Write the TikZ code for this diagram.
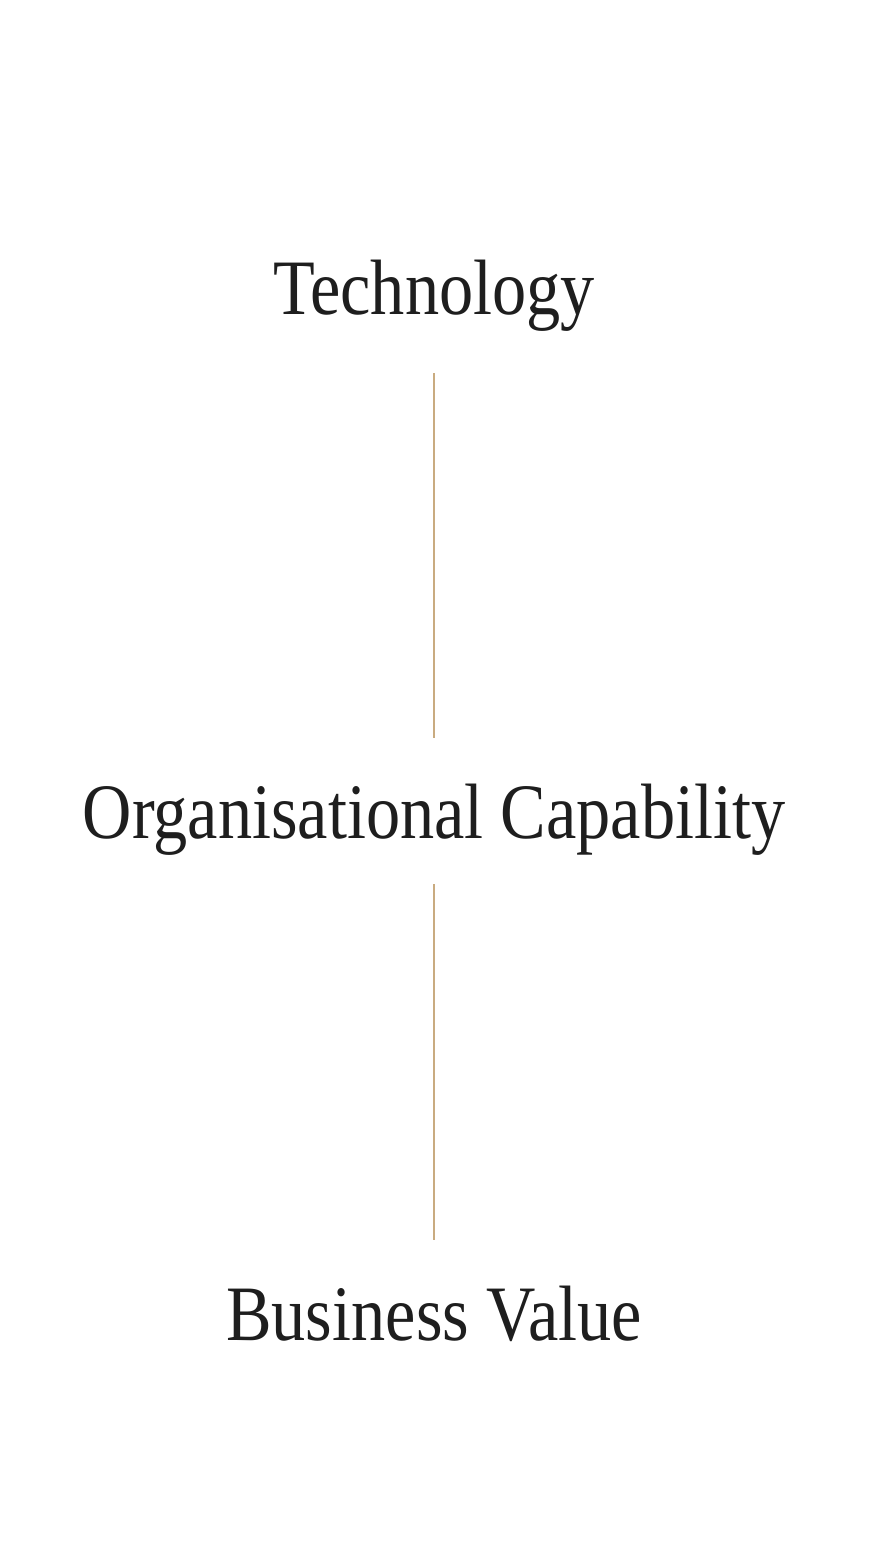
\documentclass[tikz,border=0pt]{standalone}
\usepackage{fontspec}
\setmainfont[FakeStretch=0.87]{Liberation Serif}
\definecolor{ink}{HTML}{1E1E1E}
\definecolor{gold}{HTML}{C9AB80}
\begin{document}
\begin{tikzpicture}[x=1pt,y=1pt,
  label/.style={anchor=base,inner sep=0pt,text height=52pt,text depth=16pt,text=ink,font=\fontsize{78.5}{80}\selectfont},
  link/.style={draw=gold,line width=1.5pt}]
\fill[white] (0,0) rectangle (878,-1560);
\useasboundingbox (0,0) rectangle (878,-1560);
\node[label] (tech) at (434,-314) {Technology};
\node[label] (org) at (434,-838) {Organisational Capability};
\node[label] (biz) at (434,-1340) {Business Value};
\draw[link,shorten <=43pt,shorten >=48pt] (tech.south) -- (org.north);
\draw[link,shorten <=30pt,shorten >=48pt] (org.south) -- (biz.north);
\end{tikzpicture}
\end{document}
